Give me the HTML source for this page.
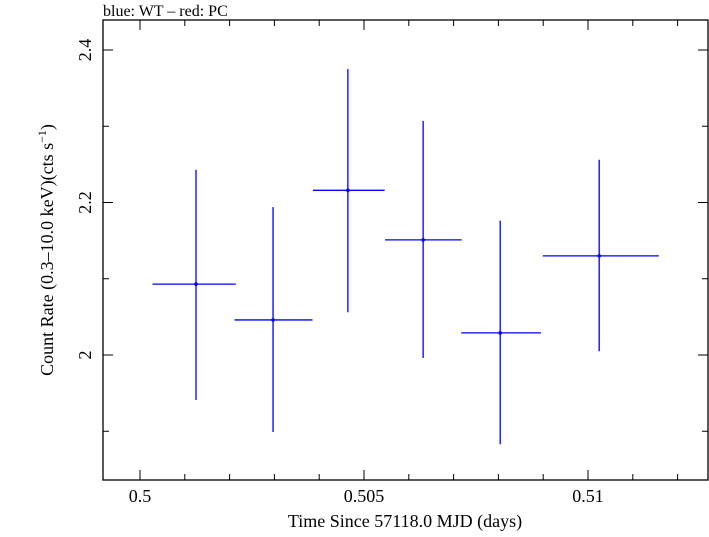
<!DOCTYPE html>
<html><head><meta charset="utf-8"><style>
body{margin:0;background:#fff}
svg text{font-family:"Liberation Serif",serif;fill:#000}
</style></head><body>
<svg id="chart" width="709" height="532" xmlns="http://www.w3.org/2000/svg">
<text x="103" y="16" font-size="16">blue: WT – red: PC</text>
<rect x="103" y="20" width="605" height="460" fill="none" stroke="#000" stroke-width="1.3"/>
<g id="axes"></g>
<g id="series"></g>
<text x="405" y="527" font-size="18" text-anchor="middle">Time Since 57118.0 MJD (days)</text>
<text transform="translate(53,250) rotate(-90)" font-size="18" text-anchor="middle">Count Rate (0.3–10.0 keV)(cts s<tspan baseline-shift="super" font-size="12">−1</tspan>)</text>
</svg>
<script>
const xs=[0.50125,0.50297,0.50464,0.50632,0.50804,0.51025];
const xlo=[0.50028,0.50211,0.50386,0.50547,0.50717,0.50899];
const xhi=[0.50214,0.50385,0.50546,0.50718,0.50895,0.51158];
const ys=[2.093,2.046,2.216,2.151,2.029,2.130];
const ylo=[1.941,1.899,2.056,1.996,1.883,2.005];
const yhi=[2.243,2.194,2.375,2.307,2.176,2.256];
const xTicks=[0.5,0.505,0.51];
const xTickLabels=["0.5","0.505","0.51"];
const yTicks=[2,2.2,2.4];
const yTickLabels=["2","2.2","2.4"];
const L=103,R=708,T=20,B=480;
function X(v){return 140+(v-0.5)*44800;}
function Y(v){return 355-(v-2)*762.5;}
const NS="http://www.w3.org/2000/svg";
function mk(tag,attrs,parent){const e=document.createElementNS(NS,tag);for(const k in attrs)e.setAttribute(k,attrs[k]);parent.appendChild(e);return e;}
const ax=document.getElementById('axes');
for(let i=-1;i<=13;i++){const v=0.5+i*0.001;const px=X(v);if(px<L||px>R)continue;const major=i%5===0;const len=major?10:6;
 let l=mk('line',{x1:px,x2:px,y1:B,y2:B-len,stroke:'#000'},ax);
 
 
 let l2=mk('line',{x1:px,x2:px,y1:T,y2:T+len,stroke:'#000'},ax);
 
 }
xTicks.forEach((v,i)=>{const t=mk('text',{x:X(v),y:502,'font-size':18,'text-anchor':'middle'},ax);t.textContent=xTickLabels[i];
 
 });
for(let i=-2;i<=5;i++){const v=2+i*0.1;const py=Y(v);if(py<T||py>B)continue;const major=i%2===0;const len=major?10:6;
 let l=mk('line',{x1:L,x2:L+len,y1:py,y2:py,stroke:'#000'},ax);
 
 
 let l2=mk('line',{x1:R,x2:R-len,y1:py,y2:py,stroke:'#000'},ax);
 
 }
yTicks.forEach((v,i)=>{const t=mk('text',{'font-size':18,'text-anchor':'middle',transform:`translate(91,${Y(v)}) rotate(-90)`},ax);t.textContent=yTickLabels[i];
 
 });
const se=document.getElementById('series');
xs.forEach((x,i)=>{
 const g=mk('g',{},se);
 
 
 mk('line',{x1:X(xlo[i]),x2:X(xhi[i]),y1:Y(ys[i]),y2:Y(ys[i]),stroke:'#0000ff','stroke-width':1.3},g);
 mk('line',{x1:X(x),x2:X(x),y1:Y(ylo[i]),y2:Y(yhi[i]),stroke:'#0000ff','stroke-width':1.3},g);
 mk('circle',{cx:X(x),cy:Y(ys[i]),r:1.8,fill:'#0000ff'},g);
});
</script>
</body></html>
